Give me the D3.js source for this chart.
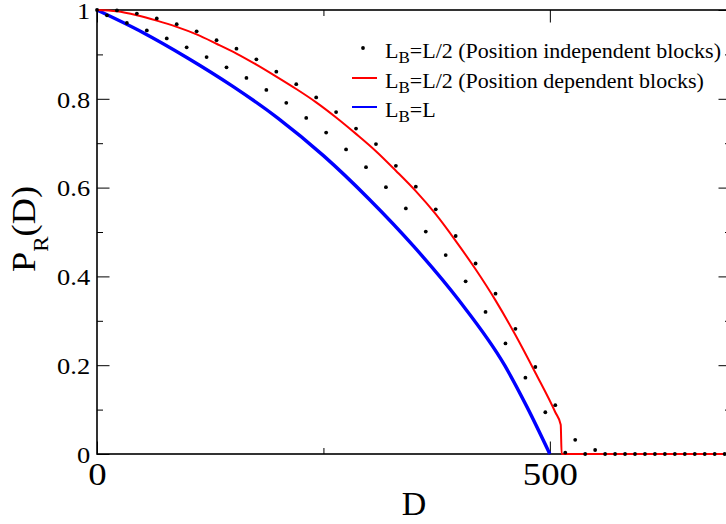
<!DOCTYPE html>
<html>
<head>
<meta charset="utf-8">
<script src="https://cdn.jsdelivr.net/npm/d3@7"></script>
</head>
<body style="margin:0;background:#fff">
<svg id="chart" width="726" height="524" font-family="Liberation Serif"></svg>
<script>
// ---- data ----
// Position independent blocks (dots), at D = 11*k, k = 0..63
const dotStep = 11;
const dotValues = [
  1.000, 0.988, 0.999, 0.971, 0.992, 0.954, 0.981, 0.936, 0.968, 0.916,
  0.952, 0.894, 0.932, 0.871, 0.913, 0.847, 0.889, 0.820, 0.861, 0.791,
  0.833, 0.757, 0.803, 0.724, 0.770, 0.686, 0.733, 0.646, 0.698, 0.601,
  0.649, 0.553, 0.602, 0.501, 0.551, 0.448, 0.491, 0.389, 0.429, 0.320,
  0.361, 0.249, 0.282, 0.172, 0.196, 0.094, 0.110, 0.003, 0.032, 0.000,
  0.009, 0.000, 0.000, 0.000, 0.000, 0.000, 0.000, 0.000, 0.000, 0.000,
  0.000, 0.000, 0.000, 0.000
];
// Position dependent blocks (red line)
const redD = [0, 22, 44, 66, 88, 110, 132, 154, 176, 198, 220, 242, 264, 286, 308, 330, 352, 374, 396, 418, 440, 462, 484, 506, 512, 513, 600, 700];
const redP = [1.000, 0.997, 0.988, 0.976, 0.962, 0.945, 0.924, 0.902, 0.877, 0.850, 0.822, 0.792, 0.758, 0.721, 0.682, 0.638, 0.592, 0.540, 0.480, 0.416, 0.346, 0.268, 0.183, 0.094, 0.066, 0.000, 0.000, 0.000];
// L_B = L (blue line)
const blueD = [0, 50, 100, 150, 200, 250, 300, 350, 400, 450, 475, 500];
const blueP = [1.000, 0.950, 0.892, 0.828, 0.756, 0.672, 0.575, 0.467, 0.345, 0.200, 0.105, 0.000];

const xTickValues = [0, 500];
const xTickLabels = ["0", "500"];
const xMinorTicks = [250, 750];
const yTickValues = [0, 0.2, 0.4, 0.6, 0.8, 1];
const yTickLabels = ["0", "0.2", "0.4", "0.6", "0.8", "1"];
const yMinorTicks = [0.1, 0.3, 0.5, 0.7, 0.9];

const legendLabels = [
  {sub: "B", rest: "=L/2 (Position independent blocks)"},
  {sub: "B", rest: "=L/2 (Position dependent blocks)"},
  {sub: "B", rest: "=L"}
];

// ---- layout ----
const FONT = "Liberation Serif";
const svg = d3.select("#chart");
const pL = 97, pR = 731, pT = 10, pB = 454;
const x = d3.scaleLinear().domain([0, 700]).range([pL, pR]);
const y = d3.scaleLinear().domain([0, 1]).range([pB, pT]);

const majorLen = 12.5, minorLen = 6;

function styleAxis(g) {
  g.select(".domain").remove();
  g.attr("font-family", FONT);
  g.selectAll(".tick line").attr("stroke", "#000").attr("stroke-width", 1);
}

// bottom
svg.append("g").attr("transform", `translate(0,${pB})`)
  .call(d3.axisBottom(x).tickValues(xTickValues).tickSize(-majorLen).tickPadding(8)
    .tickFormat((d, i) => xTickLabels[i]))
  .call(styleAxis)
  .call(g => g.selectAll("text").attr("font-size", 32).attr("fill", "#000")
    .attr("font-family", FONT).attr("transform", "scale(1.15,1)"));
svg.append("g").attr("transform", `translate(0,${pB})`)
  .call(d3.axisBottom(x).tickValues(xMinorTicks).tickSize(-minorLen).tickFormat(""))
  .call(styleAxis);
// top
svg.append("g").attr("transform", `translate(0,${pT})`)
  .call(d3.axisTop(x).tickValues(xTickValues).tickSize(-majorLen).tickFormat(""))
  .call(styleAxis);
svg.append("g").attr("transform", `translate(0,${pT})`)
  .call(d3.axisTop(x).tickValues(xMinorTicks).tickSize(-minorLen).tickFormat(""))
  .call(styleAxis);
// left
svg.append("g").attr("transform", `translate(${pL},0)`)
  .call(d3.axisLeft(y).tickValues(yTickValues).tickSize(-majorLen).tickPadding(6)
    .tickFormat((d, i) => yTickLabels[i]))
  .call(styleAxis)
  .call(g => g.selectAll("text").attr("font-size", 23).attr("fill", "#000")
    .attr("font-family", FONT).attr("dy", "0.36em").attr("transform", "scale(1.15,1)"));
svg.append("g").attr("transform", `translate(${pL},0)`)
  .call(d3.axisLeft(y).tickValues(yMinorTicks).tickSize(-minorLen).tickFormat(""))
  .call(styleAxis);
// right
svg.append("g").attr("transform", `translate(${pR},0)`)
  .call(d3.axisRight(y).tickValues(yTickValues).tickSize(-majorLen).tickFormat(""))
  .call(styleAxis);
svg.append("g").attr("transform", `translate(${pR},0)`)
  .call(d3.axisRight(y).tickValues(yMinorTicks).tickSize(-minorLen).tickFormat(""))
  .call(styleAxis);

// frame
svg.append("rect").attr("x", pL).attr("y", pT)
  .attr("width", pR - pL).attr("height", pB - pT)
  .attr("fill", "none").attr("stroke", "#000").attr("stroke-width", 1.6);

// lines
const blueData = blueD.map((d, i) => [d, blueP[i]]);
const redData = redD.map((d, i) => [d, redP[i]]);
const line = d3.line().x(d => x(d[0])).y(d => y(d[1])).curve(d3.curveMonotoneX);

svg.append("path").datum(blueData).attr("d", line)
  .attr("fill", "none").attr("stroke", "#0000ff").attr("stroke-width", 3.4);
svg.append("path").datum(redData).attr("d", line)
  .attr("fill", "none").attr("stroke", "#ff0000").attr("stroke-width", 2);

// dots
const dots = dotValues.map((v, k) => [k * dotStep, v]);
svg.append("g").selectAll("circle").data(dots).join("circle")
  .attr("cx", d => x(d[0])).attr("cy", d => y(d[1])).attr("r", 1.9)
  .attr("fill", "#000");

// axis titles
svg.append("text").attr("x", 414).attr("y", 515).attr("text-anchor", "middle")
  .attr("font-family", FONT).attr("font-size", 34).attr("fill", "#000").text("D");
const yt = svg.append("text").attr("transform", "translate(35,272) rotate(-90) scale(1.1,1)")
  .attr("text-anchor", "start").attr("font-family", FONT)
  .attr("font-size", 33).attr("fill", "#000");
yt.append("tspan").text("P");
yt.append("tspan").attr("font-size", 21).attr("dy", 13).text("R");
yt.append("tspan").attr("dy", -13).text("(D)");

// legend
const legX = 385, legY = [58, 88, 117];
const lg = svg.append("g");
lg.append("circle").attr("cx", 363).attr("cy", 48).attr("r", 1.9).attr("fill", "#000");
lg.append("line").attr("x1", 352).attr("x2", 377).attr("y1", 78).attr("y2", 78)
  .attr("stroke", "#ff0000").attr("stroke-width", 2);
lg.append("line").attr("x1", 352).attr("x2", 377).attr("y1", 107).attr("y2", 107)
  .attr("stroke", "#0000ff").attr("stroke-width", 2);
legendLabels.forEach((l, i) => {
  const t = lg.append("text").attr("x", legX).attr("y", legY[i])
    .attr("font-family", FONT).attr("font-size", 22).attr("fill", "#000");
  t.append("tspan").text("L");
  t.append("tspan").attr("font-size", 17).attr("dy", 5).text(l.sub);
  t.append("tspan").attr("dy", -5).text(l.rest);
});
</script>
</body>
</html>
